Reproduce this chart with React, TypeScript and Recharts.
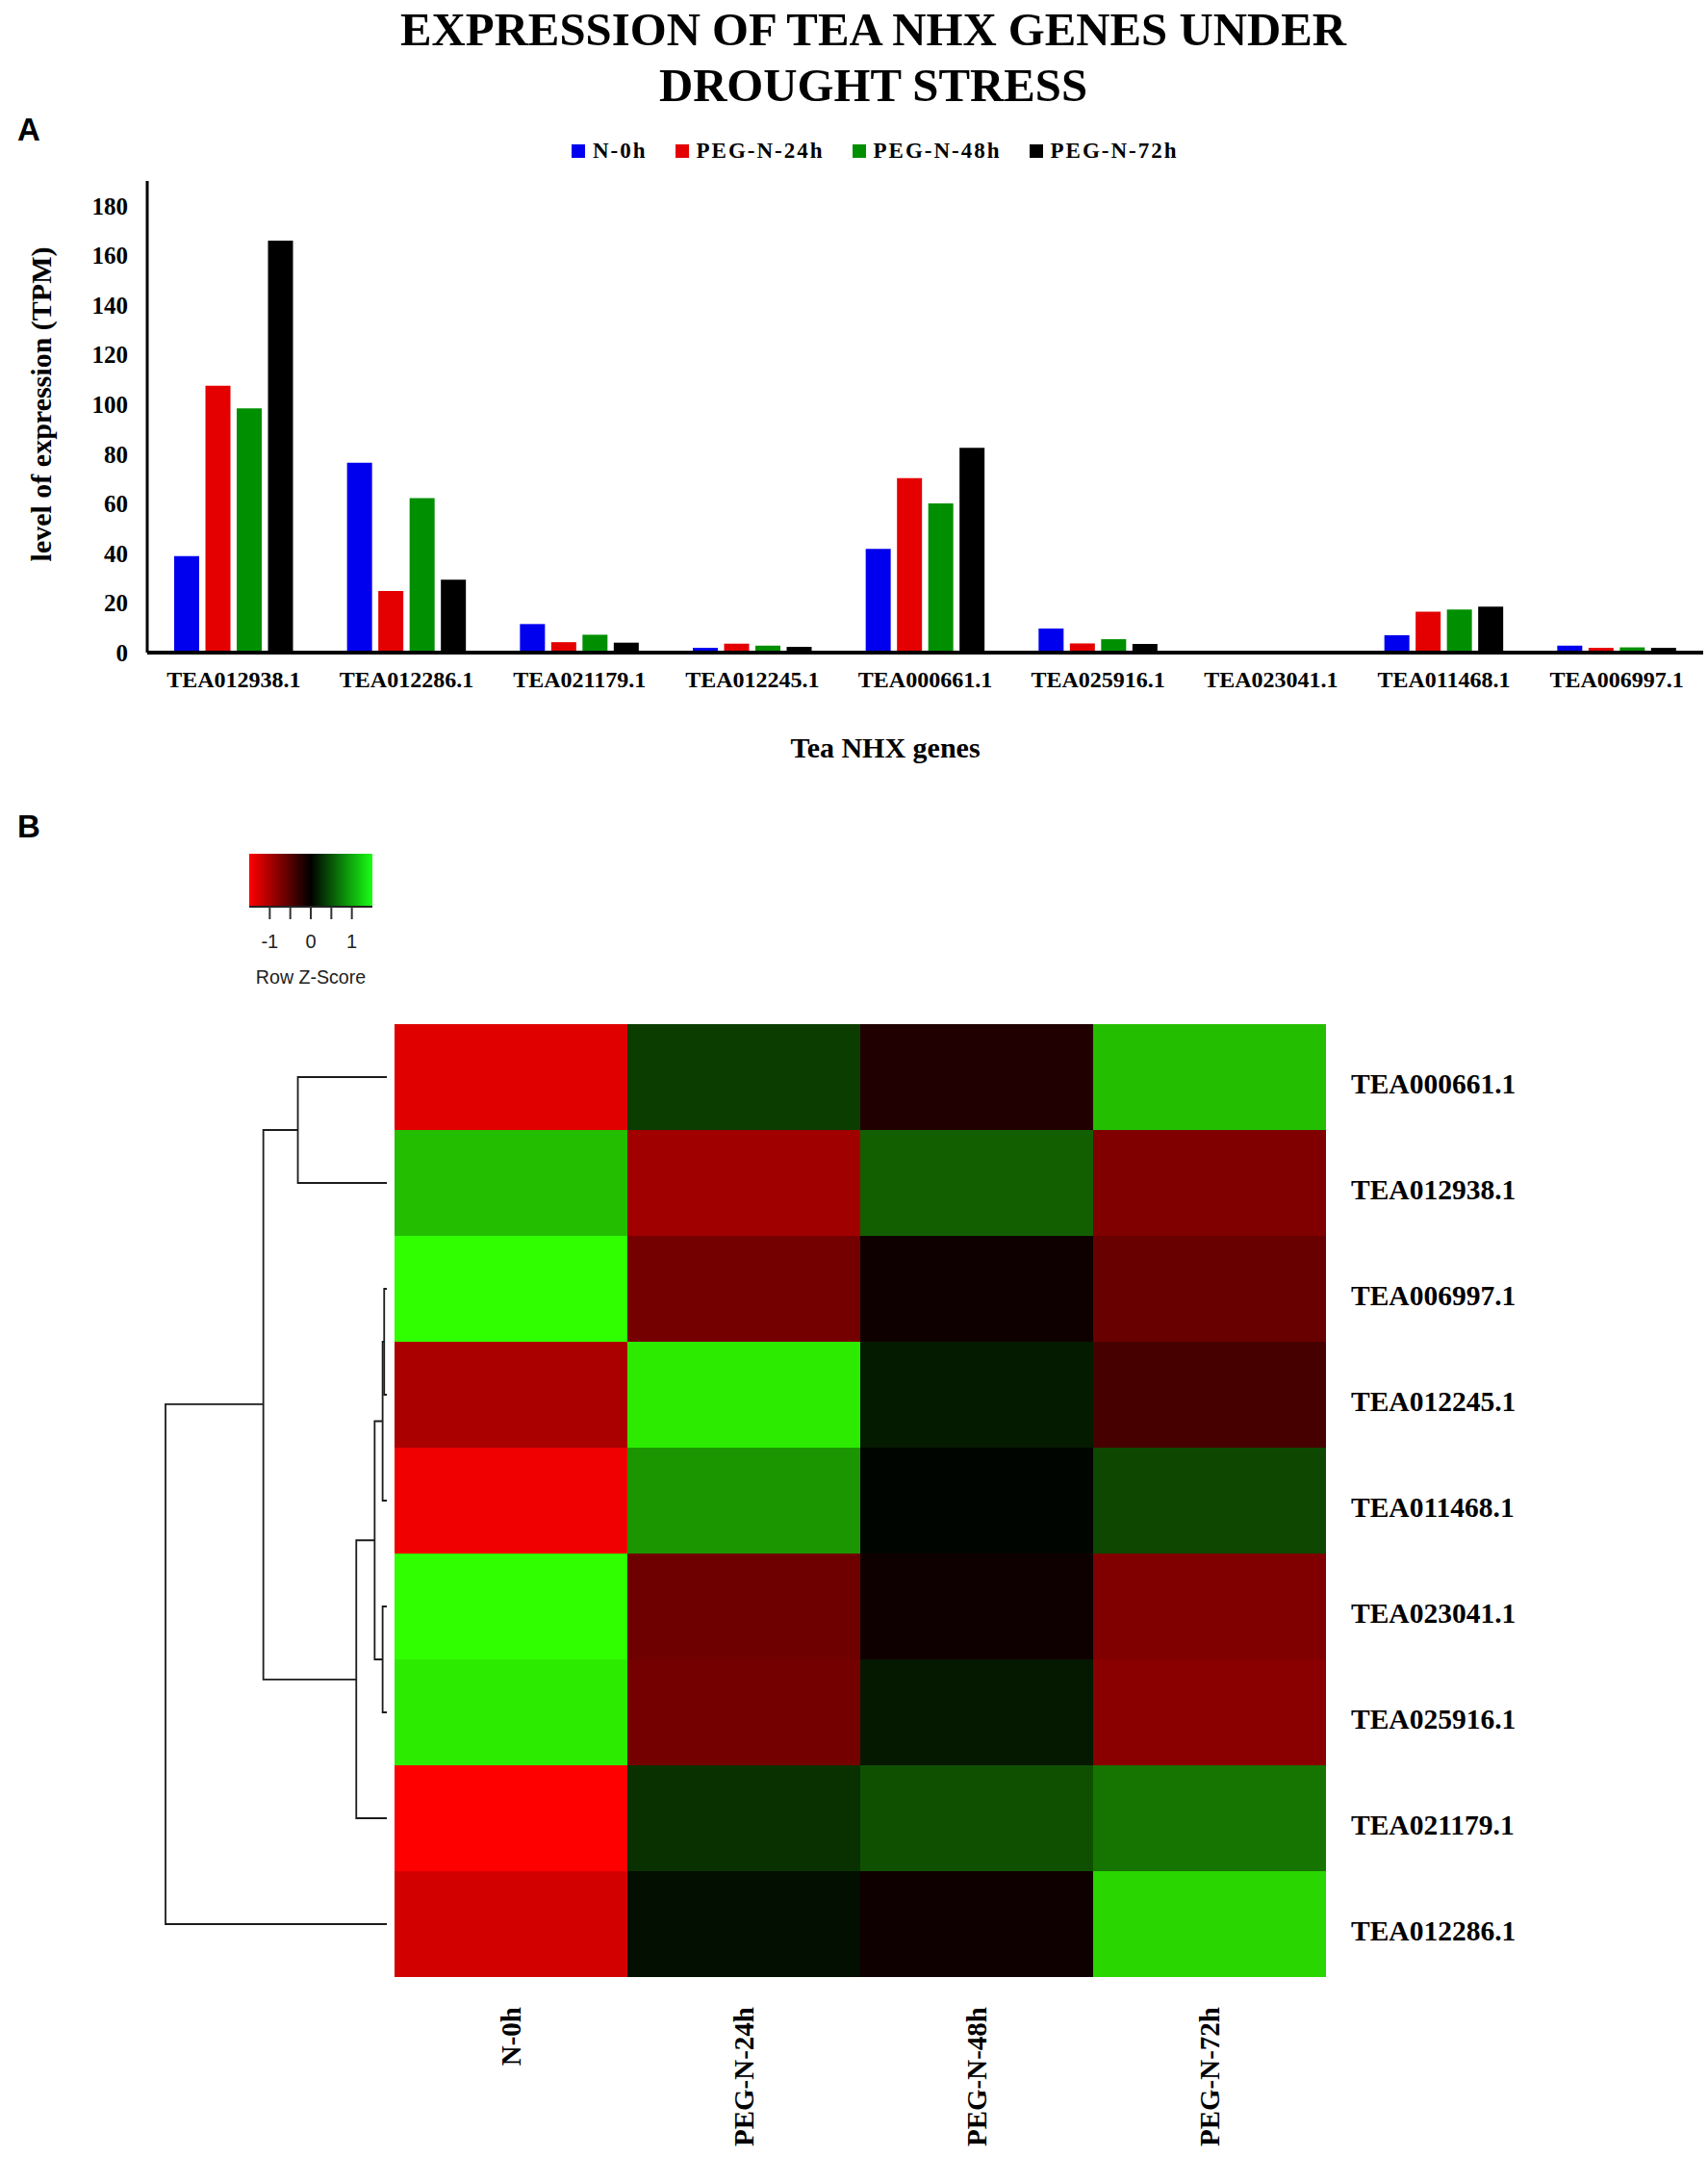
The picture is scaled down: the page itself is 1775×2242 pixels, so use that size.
import React from 'react';
import {
  BarChart, Bar, Cell, XAxis, YAxis, Legend, ScatterChart, Scatter, ReferenceArea
} from 'recharts';

const SERIF = '"Liberation Serif", serif';
const SANS = '"Liberation Sans", sans-serif';

// panel A
const genes = ['TEA012938.1', 'TEA012286.1', 'TEA021179.1', 'TEA012245.1', 'TEA000661.1', 'TEA025916.1', 'TEA023041.1', 'TEA011468.1', 'TEA006997.1'];
const seriesNames = ['N-0h', 'PEG-N-24h', 'PEG-N-48h', 'PEG-N-72h'];
const seriesColors = ['#0000ee', '#e40000', '#008f00', '#000000'];
const n0h = [38.9, 76.5, 11.5, 1.9, 41.8, 9.7, 0.2, 7, 2.8];
const peg24h = [107.5, 24.8, 4.2, 3.6, 70.3, 3.7, 0.5, 16.5, 1.9];
const peg48h = [98.4, 62.2, 7.2, 2.8, 60.1, 5.4, 0.2, 17.4, 2.1];
const peg72h = [166, 29.4, 4, 2.3, 82.5, 3.5, 0.2, 18.5, 1.9];
const yTicks = [0, 20, 40, 60, 80, 100, 120, 140, 160, 180];

const barData = genes.map((gene, i) => ({
  gene,
  [seriesNames[0]]: n0h[i],
  [seriesNames[1]]: peg24h[i],
  [seriesNames[2]]: peg48h[i],
  [seriesNames[3]]: peg72h[i]
}));

// panel B, row z-scores, top row first
const heatGenes = ['TEA000661.1', 'TEA012938.1', 'TEA006997.1', 'TEA012245.1', 'TEA011468.1', 'TEA023041.1', 'TEA025916.1', 'TEA021179.1', 'TEA012286.1'];
const zN0h = [-1.32, 1.12, 1.5, -1.0, -1.41, 1.5, 1.38, -1.5, -1.24];
const zPeg24h = [0.36, -0.94, -0.68, 1.38, 0.88, -0.65, -0.68, 0.29, 0.09];
const zPeg48h = [-0.19, 0.56, -0.09, 0.16, 0.03, -0.09, 0.15, 0.47, -0.09];
const zPeg72h = [1.12, -0.75, -0.62, -0.42, 0.42, -0.75, -0.81, 0.68, 1.26];
const zColumns = [zN0h, zPeg24h, zPeg48h, zPeg72h];
const colCenters = [0.5, 1.5, 2.5, 3.5];

const heatData = heatGenes.map(gene => ({ gene, 'N-0h': 1, 'PEG-N-24h': 1, 'PEG-N-48h': 1, 'PEG-N-72h': 1 }));

// colour key
const keyTicks = [-1, -0.5, 0, 0.5, 1];
const keyPoints = keyTicks.map(z => ({ z, v: 0 }));

// dendrogram merges: height of the join, then row position and height of both children
const merges = [
  { h: 0.12, topY: 2, topH: 0, botY: 3, botH: 0 },
  { h: 0.19, topY: 2.5, topH: 0.12, botY: 4, botH: 0 },
  { h: 0.19, topY: 5, topH: 0, botY: 6, botH: 0 },
  { h: 0.55, topY: 3.25, topH: 0.19, botY: 5.5, botH: 0.19 },
  { h: 1.38, topY: 4.375, topH: 0.55, botY: 7, botH: 0 },
  { h: 4.02, topY: 0, topH: 0, botY: 1, botH: 0 },
  { h: 5.58, topY: 0.5, topH: 4.02, botY: 5.69, botH: 1.38 },
  { h: 10, topY: 3.09, topH: 5.58, botY: 8, botH: 0 }
];

const zColor = (z: number) => {
  const level = Math.min(1, Math.abs(z) / 1.5);
  if (z < 0) return `rgb(${Math.round(level * 255)},0,0)`;
  return `rgb(${Math.round(level * 255 * 0.19)},${Math.round(level * 255)},0)`;
};

const BarLegend = ({ payload }: any) => (
  <div style={{ display: 'flex', alignItems: 'center', gap: 29, fontFamily: SERIF, fontWeight: 'bold', fontSize: 23, letterSpacing: 2, color: '#000', whiteSpace: 'nowrap' }}>
    {(payload || []).map((p: any) => (
      <div key={p.value} style={{ display: 'flex', alignItems: 'center', gap: 8 }}>
        <div style={{ width: 14, height: 14, background: p.color }} />
        <span>{p.value}</span>
      </div>
    ))}
  </div>
);

const RowTick = ({ x, y, payload }: any) => (
  <text x={x} y={y + 7} dominantBaseline="central" fontFamily={SERIF} fontWeight="bold" fontSize={29.5} fill="#000">
    {payload.value}
  </text>
);

const ColTick = ({ x, y, index }: any) => (
  <text transform={`rotate(-90 ${x} ${y})`} x={x} y={y} textAnchor="end" dominantBaseline="central" fontFamily={SERIF} fontWeight="bold" fontSize={29} fill="#000">
    {seriesNames[index]}
  </text>
);

const Title = ({ y, children }: any) => (
  <div style={{ position: 'absolute', left: 0, width: 1815, top: y, textAlign: 'center', fontFamily: SERIF, fontWeight: 'bold', fontSize: 48.8, lineHeight: '58px', color: '#000', whiteSpace: 'nowrap' }}>
    {children}
  </div>
);

const PanelLetter = ({ y, children }: any) => (
  <div style={{ position: 'absolute', left: 18, top: y, fontFamily: SANS, fontWeight: 'bold', fontSize: 33, lineHeight: '33px', color: '#000' }}>{children}</div>
);

export default function App() {
  return (
    <div style={{ position: 'absolute', left: 0, top: 0, width: 1775, height: 2242, background: '#fff', overflow: 'hidden' }}>
      <Title y={2}>EXPRESSION OF TEA NHX GENES UNDER</Title>
      <Title y={60}>DROUGHT STRESS</Title>
      <PanelLetter y={118}>A</PanelLetter>
      <PanelLetter y={842}>B</PanelLetter>

      {/* bar chart */}
      <div style={{ position: 'absolute', left: 0, top: 130 }}>
        <BarChart width={1775} height={680} data={barData} margin={{ top: 58, right: 5, bottom: 0, left: 0 }} barGap={6.5} barSize={26}>
          <XAxis
            dataKey="gene"
            height={132}
            interval={0}
            tickLine={false}
            tickMargin={13}
            axisLine={{ stroke: '#000', strokeWidth: 4 }}
            tick={{ fontFamily: SERIF, fontWeight: 'bold', fontSize: 24, fill: '#000' }}
          />
          <YAxis
            type="number"
            width={153}
            domain={[0, 190]}
            ticks={yTicks}
            interval={0}
            tickLine={false}
            tickMargin={14}
            axisLine={{ stroke: '#000', strokeWidth: 3 }}
            tick={{ fontFamily: SERIF, fontWeight: 'bold', fontSize: 25, fill: '#000' }}
          />
          <Legend
            layout="horizontal"
            verticalAlign="middle"
            align="center"
            content={<BarLegend />}
            wrapperStyle={{ left: 594, top: 14, width: 700, height: 30 }}
          />
          {seriesNames.map((name, i) => (
            <Bar key={name} dataKey={name} fill={seriesColors[i]} isAnimationActive={false} />
          ))}
          <text transform="rotate(-90 42 290)" x={42} y={290} textAnchor="middle" dominantBaseline="central" fontFamily={SERIF} fontWeight="bold" fontSize={30} fill="#000">
            level of expression (TPM)
          </text>
          <text x={920} y={646} textAnchor="middle" dominantBaseline="central" fontFamily={SERIF} fontWeight="bold" fontSize={30} fill="#000">
            Tea NHX genes
          </text>
        </BarChart>
      </div>

      {/* colour key */}
      <div style={{ position: 'absolute', left: 228, top: 880 }}>
        <ScatterChart width={190} height={150} margin={{ top: 7, right: 31, bottom: 0, left: 31 }}>
          <defs>
            <linearGradient id="zKey" x1="0" y1="0" x2="1" y2="0">
              <stop offset="0%" stopColor={zColor(-1.5)} />
              <stop offset="50%" stopColor="#000" />
              <stop offset="100%" stopColor="#18ff14" />
            </linearGradient>
          </defs>
          <XAxis
            type="number"
            dataKey="z"
            domain={[-1.5, 1.5]}
            ticks={keyTicks}
            interval={0}
            height={88}
            tickSize={13}
            tickMargin={16}
            axisLine={{ stroke: '#222', strokeWidth: 2 }}
            tickLine={{ stroke: '#333', strokeWidth: 2 }}
            tickFormatter={(v: number) => (Number.isInteger(v) ? String(v) : '')}
            tick={{ fontFamily: SANS, fontSize: 20, fill: '#222' }}
            label={{ value: 'Row Z-Score', position: 'insideBottom', offset: 8, fontFamily: SANS, fontSize: 19.6, fill: '#222' }}
          />
          <YAxis type="number" dataKey="v" domain={[0, 1]} hide />
          <ReferenceArea x1={-1.5} x2={1.5} y1={0} y2={1} fill="url(#zKey)" fillOpacity={1} stroke="none" />
          <Scatter data={keyPoints} shape={() => null} isAnimationActive={false} />
        </ScatterChart>
      </div>

      {/* dendrogram */}
      <div style={{ position: 'absolute', left: 168.7, top: 1064 }}>
        <ScatterChart width={236} height={990} margin={{ top: 0, right: 3, bottom: 0, left: 3 }}>
          <XAxis type="number" dataKey="h" domain={[0, 10]} reversed hide />
          <YAxis type="number" dataKey="y" domain={[-0.5, 8.5]} reversed hide />
          {merges.map((m, i) => (
            <Scatter
              key={i}
              data={[
                { h: m.topH, y: m.topY },
                { h: m.h, y: m.topY },
                { h: m.h, y: m.botY },
                { h: m.botH, y: m.botY }
              ]}
              line={{ stroke: '#1c1c1c', strokeWidth: 1.8 }}
              shape={() => null}
              isAnimationActive={false}
            />
          ))}
        </ScatterChart>
      </div>

      {/* heatmap */}
      <div style={{ position: 'absolute', left: 410, top: 1064 }}>
        <BarChart width={1268} height={1178} layout="vertical" data={heatData} margin={{ top: 0, right: 0, bottom: 0, left: 0 }} barCategoryGap={0}>
          <XAxis
            type="number"
            domain={[0, 4]}
            ticks={colCenters}
            interval={0}
            height={188}
            axisLine={false}
            tickLine={false}
            tickMargin={25}
            tick={<ColTick />}
          />
          <YAxis
            type="category"
            dataKey="gene"
            orientation="right"
            width={300}
            interval={0}
            axisLine={false}
            tickLine={false}
            tickMargin={20}
            tick={<RowTick />}
          />
          {seriesNames.map((name, c) => (
            <Bar key={name} dataKey={name} stackId="heat" isAnimationActive={false}>
              {heatGenes.map((gene, r) => (
                <Cell key={gene} fill={zColor(zColumns[c][r])} />
              ))}
            </Bar>
          ))}
        </BarChart>
      </div>
    </div>
  );
}
